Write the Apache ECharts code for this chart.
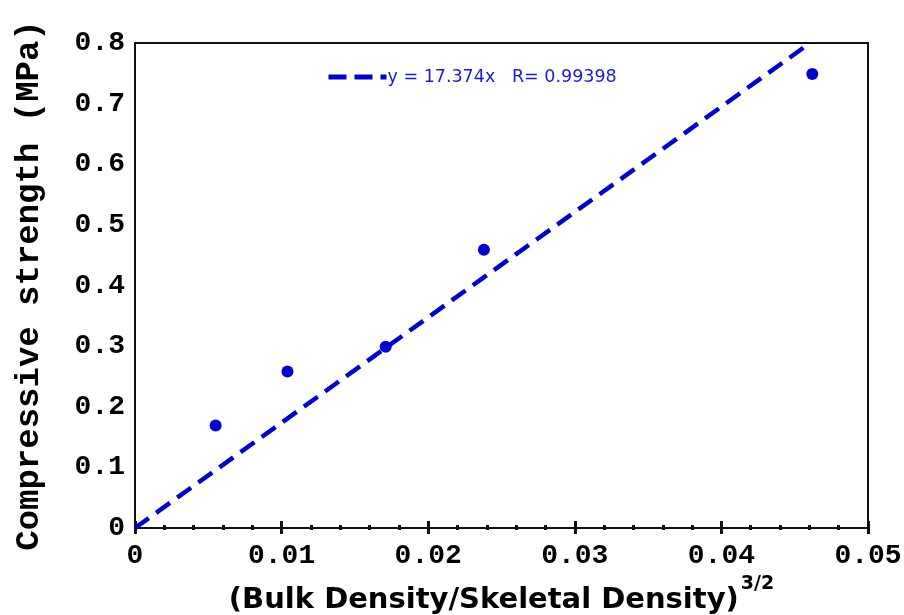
<!DOCTYPE html>
<html>
<head>
<meta charset="utf-8">
<title>Compressive strength vs relative density</title>
<script src="https://cdn.jsdelivr.net/npm/echarts@6/dist/echarts.min.js"></script>
<style>
  html, body { margin: 0; padding: 0; background: #fff; }
  #chart { width: 904px; height: 615px; }
</style>
</head>
<body>
<div id="chart"></div>
<script>
// Measured samples: (bulk/skeletal density)^(3/2) vs compressive strength
const relDensity = [0.0055, 0.0104, 0.0171, 0.0238, 0.0462];
const strength   = [0.169, 0.258, 0.299, 0.459, 0.749];

// Linear fit through the origin
const fitSlope = 17.374;
const fitR = 0.99398;
const fitRange = [0, 0.0458];

// Axis ranges and ticks
const xTicks = [0, 0.01, 0.02, 0.03, 0.04, 0.05];
const yTicks = [0, 0.1, 0.2, 0.3, 0.4, 0.5, 0.6, 0.7, 0.8];

const blue = '#0000d2';
const sans = 'DejaVu Sans';
const monoBold = { fontFamily: 'Liberation Mono', fontWeight: 'bold', color: '#000' };

const points = relDensity.map((x, i) => [x, strength[i]]);
const fitLine = fitRange.map(x => [x, fitSlope * x]);
const fitName = 'y = ' + fitSlope + 'x   R= ' + fitR;

const fmtX = v => (v === 0 ? '0' : v.toFixed(2));
const fmtY = v => (v === 0 ? '0' : v.toFixed(1));

const xMin = xTicks[0], xMax = xTicks[xTicks.length - 1], xStep = xTicks[1] - xTicks[0];
const yMin = yTicks[0], yMax = yTicks[yTicks.length - 1], yStep = yTicks[1] - yTicks[0];

const chart = echarts.init(document.getElementById('chart'), null, { renderer: 'canvas' });

chart.setOption({
  animation: false,
  backgroundColor: '#fff',
  grid: {
    left: 135, right: 36, top: 43, bottom: 87,
    outerBoundsMode: 'none', containLabel: false,
    show: true, borderColor: '#111', borderWidth: 2, backgroundColor: 'transparent'
  },
  legend: {
    left: 321, top: 63,
    itemWidth: 58, itemHeight: 14, itemGap: 10,
    data: [fitName],
    itemStyle: { opacity: 0 },
    lineStyle: { width: 5, type: [18, 8], cap: 'butt' },
    textStyle: { color: '#1a1ad8', fontSize: 17.5, fontFamily: sans, padding: [0, 0, 0, -4] }
  },
  xAxis: [
    {
      type: 'value', position: 'bottom',
      min: xMin, max: xMax, interval: xStep,
      axisLine: { show: true, lineStyle: { color: '#111', width: 2 } },
      axisTick: { show: true, inside: true, length: 7, lineStyle: { color: '#111', width: 3 } },
      minorTick: { show: true, splitNumber: 5, length: 3, lineStyle: { color: '#111', width: 3 } },
      splitLine: { show: false },
      axisLabel: Object.assign({ fontSize: 28, margin: 14, formatter: fmtX }, monoBold),
      name: '{m|(Bulk Density/Skeletal Density)}{s|3/2}',
      nameLocation: 'middle', nameGap: 46,
      nameTextStyle: {
        rich: {
          m: { fontSize: 29, fontWeight: 'bold', fontFamily: sans, color: '#000', lineHeight: 34 },
          s: { fontSize: 19, fontWeight: 'bold', fontFamily: sans, color: '#000', padding: [0, 0, 32, 2] }
        }
      }
    },
    {
      type: 'value', position: 'bottom',
      min: xMin, max: xMax, interval: xStep,
      axisLine: { show: false },
      axisTick: { show: true, inside: false, length: 6, lineStyle: { color: '#111', width: 3 } },
      minorTick: { show: true, splitNumber: 5, length: 2, lineStyle: { color: '#111', width: 3 } },
      splitLine: { show: false },
      axisLabel: { show: false }
    }
  ],
  yAxis: {
    type: 'value',
    min: yMin, max: yMax, interval: yStep,
    axisLine: { show: true, lineStyle: { color: '#111', width: 2 } },
    axisTick: { show: false },
    splitLine: { show: false },
    axisLabel: Object.assign({ fontSize: 28, margin: 10, formatter: fmtY }, monoBold),
    name: 'Compressive strength (MPa)',
    nameLocation: 'middle', nameGap: 89, nameRotate: 90,
    nameTextStyle: Object.assign({ fontSize: 34 }, monoBold)
  },
  series: [
    {
      name: fitName,
      type: 'line',
      xAxisIndex: 0,
      data: fitLine,
      symbol: 'none',
      lineStyle: { color: blue, width: 4.5, type: [17, 9], cap: 'butt' },
      itemStyle: { color: blue },
      z: 2
    },
    {
      name: 'data',
      type: 'scatter',
      xAxisIndex: 0,
      data: points,
      symbol: 'circle',
      symbolSize: 12,
      itemStyle: { color: blue, opacity: 1 },
      z: 3
    }
  ]
});
</script>
</body>
</html>
